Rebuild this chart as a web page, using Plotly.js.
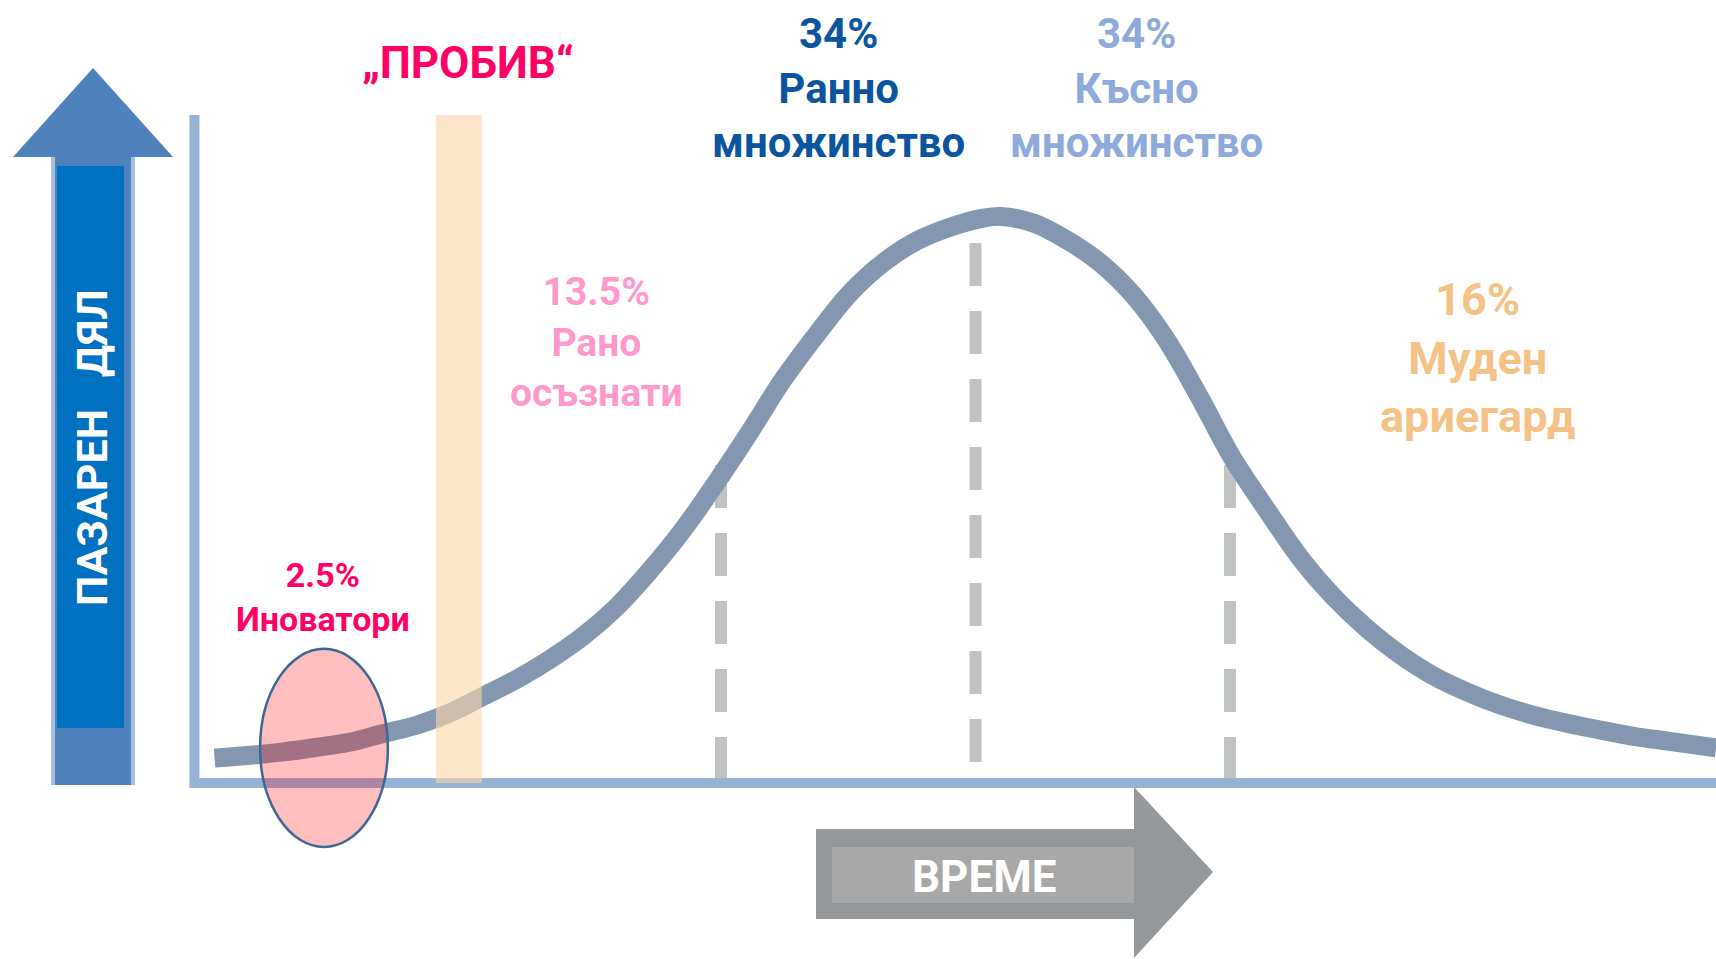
<!DOCTYPE html>
<html>
<head>
<meta charset="utf-8">
<script src="https://cdn.plot.ly/plotly-3.0.1.min.js"></script>
<style>
  html, body { margin: 0; padding: 0; background: #ffffff; }
  #chart { width: 1716px; height: 959px; }
</style>
</head>
<body>
<div id="chart"></div>
<script>
// ---- data (x in standard deviations from the mean, y = market share, peak = 100) ----
const curveX = [-2.99,-2.85,-2.72,-2.59,-2.46,-2.33,-2.19,-2.06,-1.94,-1.80,-1.67,-1.54,-1.41,-1.28,-1.15,-1.02,-0.89,-0.76,-0.62,-0.49,-0.36,-0.23,-0.10,0.03,0.10,0.23,0.36,0.49,0.62,0.75,0.88,1.01,1.15,1.28,1.40,1.54,1.67,1.80,1.93,2.06,2.19,2.32,2.45,2.58,2.72,2.91];
const curveY = [4.4,4.9,5.5,6.3,7.2,8.7,10.3,12.5,15.2,18.4,21.9,26.0,31.1,37.5,44.7,53.0,61.8,71.0,79.5,86.7,92.0,95.8,98.2,99.8,100.1,98.9,95.9,91.9,86.2,78.3,68.2,57.4,47.9,39.5,33.2,27.2,22.6,18.9,16.1,13.8,12.0,10.6,9.4,8.3,7.4,6.2];

const dividerX      = [-1, 0, 1];
const dividerTop    = [56.2, 95.4, 56.2];
const dividerBottom = [0.2, 3.2, 0.2];

const segmentPct   = ["2.5%", "13.5%", "34%", "34%", "16%"];
const segmentNames = ["Иноватори", "Рано<br>осъзнати", "Ранно<br>множинство", "Късно<br>множинство", "Муден<br>ариегард"];

const chasmX = -2.03;          // „ПРОБИВ“
const innovatorsX = -2.56;     // ellipse centre
const chasmLabel = "„ПРОБИВ“";
const yAxisLabel = "ПАЗАРЕН\u00a0\u00a0\u00a0ДЯЛ";
const xAxisLabel = "ВРЕМЕ";

// ---- layout helpers ----
const W = 1716, H = 959;
const X = px => px / W;
const Y = py => 1 - py / H;
const tri = (a, b, c) => `M ${X(a[0])},${Y(a[1])} L ${X(b[0])},${Y(b[1])} L ${X(c[0])},${Y(c[1])} Z`;
const rectP = (x0, y0, x1, y1, color) => ({type:'rect', xref:'paper', yref:'paper', x0:X(x0), x1:X(x1), y0:Y(y1), y1:Y(y0), fillcolor:color, line:{width:0}, layer:'above'});

const FONT = 'Roboto, "Open Sans", sans-serif';

const traces = [];
// dashed dividers
dividerX.forEach((x, i) => {
  traces.push({
    type:'scatter', mode:'lines', x:[x, x], y:[dividerTop[i], dividerBottom[i]],
    line:{color:'#bfc3c4', width:12, dash:'43px,25px'}, hoverinfo:'skip'
  });
});
// axis frame (L shape)
const axisX = -3.069, axisTop = 118.0, axisRight = 2.95;
traces.push({
  type:'scatter', mode:'lines', x:[axisX, axisX, axisRight], y:[axisTop, 0, 0],
  line:{color:'#95b3d7', width:10}, hoverinfo:'skip'
});
// the adoption curve
traces.push({
  type:'scatter', mode:'lines', x:curveX, y:curveY,
  line:{color:'#8497b0', width:19, shape:'spline', smoothing:1}, hoverinfo:'skip'
});

const shapes = [
  // chasm bar
  {type:'rect', xref:'x', yref:'y', x0:chasmX - 0.09, x1:chasmX + 0.09, y0:0, y1:axisTop,
   fillcolor:'rgba(252,213,170,0.62)', line:{width:0}, layer:'above'},
  // innovators ellipse
  {type:'circle', xref:'x', yref:'y', x0:innovatorsX - 0.251, x1:innovatorsX + 0.251, y0:-11.3, y1:23.7,
   fillcolor:'rgba(255,0,0,0.25)', line:{color:'#3d6795', width:2.5}, layer:'above'},
  // left (vertical) arrow
  rectP(51, 157, 135, 785, '#a9c0df'),
  rectP(55, 157, 131, 785, '#4f81bd'),
  rectP(57, 166, 124, 728, '#0070c0'),
  {type:'path', xref:'paper', yref:'paper', path:tri([13,157],[173,157],[93,68]), fillcolor:'#4f81bd', line:{width:0}, layer:'above'},
  // time arrow
  rectP(816, 829, 1136, 919, '#95989a'),
  rectP(832, 847, 1136, 903, '#a8a8a8'),
  {type:'path', xref:'paper', yref:'paper', path:tri([1134,787],[1134,958],[1213,872]), fillcolor:'#95989a', line:{width:0}, layer:'above'}
];

const segColors = ['#ff0066', '#ff99cc', '#0b559f', '#8eaadb', '#f5c285'];
const segPos = [[323, 597], [596, 342], [838, 88], [1136, 88], [1477, 358]];
const segSize = [34, 39, 42, 42, 45];

const annotations = segmentPct.map((p, i) => ({
  xref:'paper', yref:'paper', x:X(segPos[i][0]), y:Y(segPos[i][1]),
  xanchor:'center', yanchor:'middle', showarrow:false, align:'center',
  text:'<b>' + p + '<br>' + segmentNames[i].replace('<br>', '</b><br><b>') + '</b>',
  font:{family:FONT, size:segSize[i], color:segColors[i]}
}));
annotations.push({
  xref:'paper', yref:'paper', x:X(468), y:Y(63), xanchor:'center', yanchor:'middle', showarrow:false,
  text:'<b>' + chasmLabel + '</b>', font:{family:FONT, size:44, color:'#ff0066'}
});
annotations.push({
  xref:'paper', yref:'paper', x:X(984), y:Y(877), xanchor:'center', yanchor:'middle', showarrow:false,
  text:'<b>' + xAxisLabel + '</b>', font:{family:FONT, size:44, color:'#ffffff'}
});
annotations.push({
  xref:'paper', yref:'paper', x:X(92), y:Y(448), xanchor:'center', yanchor:'middle', showarrow:false,
  textangle:-90, text:'<b>' + yAxisLabel + '</b>', font:{family:FONT, size:43, color:'#ffffff'}
});

const layout = {
  width:W, height:H, margin:{l:0, r:0, t:0, b:0},
  paper_bgcolor:'#ffffff', plot_bgcolor:'#ffffff', showlegend:false,
  xaxis:{range:[-975.5/254.5, (W-975.5)/254.5], showgrid:false, zeroline:false, showticklabels:false, ticks:'', showline:false, fixedrange:true},
  yaxis:{range:[(783-H)/5.66, 783/5.66], showgrid:false, zeroline:false, showticklabels:false, ticks:'', showline:false, fixedrange:true},
  shapes:shapes, annotations:annotations
};

Plotly.newPlot('chart', traces, layout, {staticPlot:true, displayModeBar:false});
</script>
</body>
</html>
